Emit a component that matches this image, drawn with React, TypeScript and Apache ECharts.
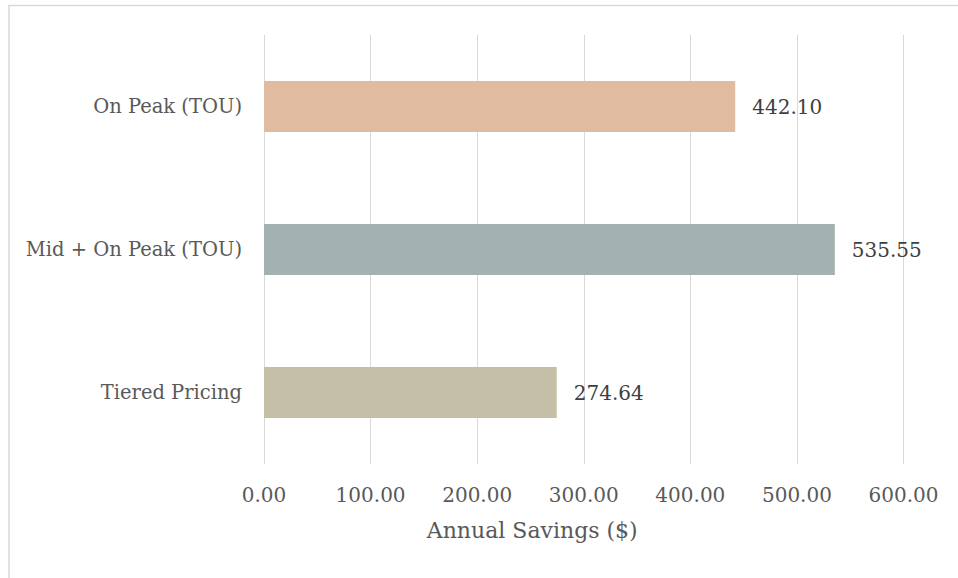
import React, { useEffect, useRef } from "react";
import * as echarts from "echarts";

const categories = ["On Peak (TOU)", "Mid + On Peak (TOU)", "Tiered Pricing"];
const savings = [442.1, 535.55, 274.64];
const barColors = ["#E0BBA0", "#A3B1B0", "#C5BFA8"];
const xTicks = { min: 0, max: 600, interval: 100 };
const axisTitle = "Annual Savings ($)";

export default function App() {
  const ref = useRef<HTMLDivElement>(null);
  useEffect(() => {
    if (!ref.current) return;
    const chart = echarts.init(ref.current, undefined, { renderer: "svg" });
    const font = "'DejaVu Serif', serif";
    chart.setOption({
      animation: false,
      backgroundColor: "#ffffff",
      textStyle: { fontFamily: font },
      graphic: [
        {
          type: "rect",
          shape: { x: 9, y: 5.5, width: 2000, height: 2000 },
          style: { fill: "none", stroke: "#d9d9d9", lineWidth: 1.5 },
          silent: true,
        },
      ],
      grid: { left: 264, right: 54.5, top: 35, bottom: 114, containLabel: false },
      xAxis: {
        type: "value",
        min: xTicks.min,
        max: xTicks.max,
        interval: xTicks.interval,
        axisLine: { show: false },
        axisTick: { show: false },
        splitLine: { show: true, lineStyle: { color: "#d9d9d9", width: 1 } },
        axisLabel: {
          margin: 21,
          fontSize: 20,
          color: "#595959",
          fontFamily: font,
          formatter: (v: number) => v.toFixed(2),
        },
        name: axisTitle,
        nameLocation: "middle",
        nameGap: 55,
        nameTextStyle: {
          fontSize: 22,
          color: "#595959",
          fontFamily: font,
          padding: [0, 103, 0, 0],
        },
      },
      yAxis: {
        type: "category",
        data: categories,
        inverse: true,
        axisLine: { show: false },
        axisTick: { show: false },
        splitLine: { show: false },
        axisLabel: { margin: 22, fontSize: 19.5, color: "#595959", fontFamily: font },
      },
      series: [
        {
          type: "bar",
          barWidth: 51,
          data: savings.map((v, i) => ({ value: v, itemStyle: { color: barColors[i] } })),
          label: {
            show: true,
            position: "right",
            distance: 17,
            fontSize: 20,
            color: "#404040",
            fontFamily: font,
            formatter: (p: any) => Number(p.value).toFixed(2),
          },
        },
      ],
    });
    return () => chart.dispose();
  }, []);
  return (
    <div
      ref={ref}
      style={{ position: "fixed", left: 0, top: 0, width: 958, height: 578 }}
    />
  );
}
